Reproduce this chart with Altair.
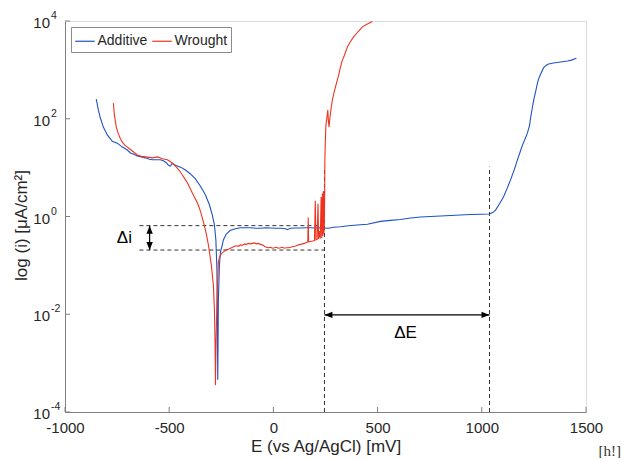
import altair as alt
import pandas as pd

# ---- data: (E in mV, log10 of i in uA/cm2) ----
additive_points = [
    (-850, 2.40), (-840, 2.18), (-830, 2.01), (-816, 1.83), (-797, 1.67), (-773, 1.54),
    (-749, 1.50), (-725, 1.42), (-701, 1.36), (-686, 1.30), (-667, 1.27), (-653, 1.24),
    (-634, 1.22), (-614, 1.20), (-595, 1.17), (-581, 1.16), (-562, 1.16), (-542, 1.16),
    (-528, 1.14), (-514, 1.10), (-504, 1.05), (-494, 1.03), (-485, 1.09), (-470, 1.05),
    (-446, 1.01), (-422, 0.95), (-398, 0.87), (-374, 0.77), (-350, 0.62), (-326, 0.44),
    (-307, 0.24), (-293, 0.03), (-283, -0.17), (-276, -0.48), (-271, -1.09), (-269, -2.12),
    (-267, -3.34), (-264, -1.71), (-259, -0.99), (-254, -0.73), (-245, -0.58), (-240, -0.48),
    (-226, -0.36), (-206, -0.28), (-182, -0.25), (-158, -0.23), (-134, -0.23), (-110, -0.23),
    (-86, -0.24), (-62, -0.24), (-38, -0.23), (-14, -0.235), (10, -0.24), (34, -0.24),
    (58, -0.25), (67, -0.27), (82, -0.24), (106, -0.235), (130, -0.235), (154, -0.23),
    (178, -0.23), (202, -0.235), (226, -0.23), (245, -0.235), (264, -0.24), (288, -0.22),
    (322, -0.21), (360, -0.19), (418, -0.17), (451, -0.16), (514, -0.10), (562, -0.08),
    (610, -0.06), (658, -0.03), (706, -0.01), (754, 0.0), (802, 0.01), (850, 0.02),
    (898, 0.03), (946, 0.04), (994, 0.045), (1037, 0.05), (1052, 0.08), (1066, 0.13),
    (1085, 0.26), (1104, 0.40), (1121, 0.57), (1138, 0.75), (1155, 0.95), (1171, 1.16),
    (1183, 1.31), (1195, 1.46), (1207, 1.58), (1219, 1.71), (1229, 1.86), (1234, 2.01),
    (1243, 2.24), (1250, 2.40), (1258, 2.55), (1267, 2.73), (1274, 2.83), (1282, 2.91),
    (1296, 3.04), (1308, 3.09), (1320, 3.12), (1344, 3.14), (1378, 3.16), (1411, 3.18),
    (1430, 3.20), (1454, 3.24),
]

wrought_points = [
    (-768, 2.32), (-763, 2.08), (-754, 1.83), (-744, 1.69), (-735, 1.60), (-725, 1.52),
    (-713, 1.46), (-701, 1.42), (-689, 1.38), (-677, 1.34), (-665, 1.30), (-653, 1.26),
    (-634, 1.23), (-614, 1.22), (-595, 1.21), (-581, 1.20), (-569, 1.21), (-557, 1.22),
    (-545, 1.20), (-533, 1.18), (-521, 1.17), (-509, 1.16), (-497, 1.13), (-485, 1.09),
    (-473, 1.04), (-461, 0.99), (-449, 0.93), (-437, 0.85), (-425, 0.77), (-413, 0.69),
    (-401, 0.59), (-389, 0.48), (-377, 0.38), (-365, 0.28), (-355, 0.17), (-346, 0.05),
    (-336, -0.11), (-326, -0.28), (-319, -0.42), (-312, -0.58), (-305, -0.78), (-298, -0.99),
    (-293, -1.20), (-288, -1.40), (-283, -1.91), (-280, -2.6), (-278, -3.45), (-276, -2.8),
    (-274, -2.32), (-271, -1.8), (-269, -1.50), (-266, -1.15), (-264, -0.93), (-259, -0.84),
    (-254, -0.79), (-247, -0.75), (-240, -0.73), (-233, -0.70), (-226, -0.68), (-216, -0.67),
    (-206, -0.65), (-196, -0.63), (-187, -0.61), (-177, -0.60), (-168, -0.61), (-158, -0.58),
    (-149, -0.59), (-139, -0.56), (-130, -0.57), (-120, -0.55), (-110, -0.56), (-101, -0.55),
    (-91, -0.54), (-82, -0.56), (-72, -0.55), (-62, -0.57), (-53, -0.58), (-43, -0.61),
    (-34, -0.63), (-24, -0.64), (-14, -0.63), (-5, -0.65), (5, -0.64), (14, -0.63),
    (24, -0.65), (34, -0.64), (43, -0.63), (53, -0.65), (62, -0.64), (72, -0.64),
    (82, -0.63), (91, -0.62), (101, -0.61), (110, -0.60), (120, -0.58), (130, -0.57),
    (139, -0.56), (149, -0.55), (158, -0.53), (165, -0.52), (167, -0.02), (169, -0.52),
    (178, -0.51), (188, -0.50), (197, -0.49), (201, 0.32), (204, -0.48), (210, -0.47),
    (214, 0.26), (217, -0.46), (222, -0.30), (225, -0.45), (229, 0.40), (232, -0.44),
    (235, 0.47), (237, -0.40), (240, 0.52), (242, -0.35), (244, -0.25), (246, 0.40),
    (247, 1.16), (249, 1.50), (252, 1.87), (257, 2.03), (261, 2.18), (264, 1.95),
    (267, 1.83), (271, 2.01), (278, 2.25), (283, 2.38), (290, 2.52), (298, 2.65),
    (307, 2.80), (312, 2.87), (322, 3.06), (331, 3.20), (341, 3.30), (355, 3.47),
    (370, 3.58), (384, 3.67), (408, 3.79), (427, 3.88), (451, 3.94), (475, 3.99),
]

series_names = ["Additive", "Wrought"]
series_colors = ["#1f52c4", "#ee3420"]

x_ticks = [-1000, -500, 0, 500, 1000, 1500]
y_ticks = [1e4, 1e2, 1, 1e-2, 1e-4]
y_exponents = ["4", "2", "0", "-2", "-4"]

# annotation values
dash_v_E = [245, 1037]
dash_v_top = 10.5
dash_h_E = [-643, 245]
dash_h_i = [0.65, 0.206]
di_E = -594
dE_i = 0.0097
di_label = ("Δi", -715, 0.36)
dE_label = ("ΔE", 634, 0.0041)

# ---- build tables ----
rows = []
for name, pts in zip(series_names, [additive_points, wrought_points]):
    for k, (e, li) in enumerate(pts):
        rows.append({"series": name, "E": e, "i": 10 ** li, "idx": k})
df = pd.DataFrame(rows)

FONT = "Liberation Sans"
TXT = "#262626"
AX = "#808080"

xs = alt.Scale(domain=[-1000, 1500], nice=False, zero=False)
ys = alt.Scale(type="log", domain=[1e-4, 1e4], nice=False)

lines = alt.Chart(df).mark_line(strokeWidth=1.1).encode(
    x=alt.X("E:Q", scale=xs, axis=alt.Axis(
        values=x_ticks, title="E (vs Ag/AgCl) [mV]", ticks=False, tickSize=0,
        labelExpr="'' + datum.value",
        labelPadding=8, labelFontSize=15, titleFontSize=17, titleFontWeight="normal",
        titlePadding=3, domainColor=AX, labelColor=TXT, titleColor=TXT, grid=False,
        labelFlush=False, labelOverlap=False, labelFont=FONT, titleFont=FONT)),
    y=alt.Y("i:Q", scale=ys, axis=alt.Axis(
        values=y_ticks, labels=False, ticks=False, tickSize=0, grid=False,
        title="log (i) [μA/cm²]", titleFontSize=17, titleFontWeight="normal",
        titleColor=TXT, titleFont=FONT, domainColor=AX,
        titleX=-44, titleY=204, titleBaseline="middle")),
    color=alt.Color("series:N", scale=alt.Scale(domain=series_names, range=series_colors),
                    legend=alt.Legend(
                        title=None, orient="none", legendX=6, legendY=6,
                        direction="horizontal", symbolType="stroke", symbolSize=380,
                        symbolStrokeWidth=1.2, labelFontSize=14, labelFont=FONT,
                        labelColor=TXT, labelOffset=2, columnPadding=2, padding=3.5,
                        strokeColor="#8c8c8c", fillColor="white")),
    order="idx:Q",
)

vdash = alt.Chart(pd.DataFrame({"E": dash_v_E, "lo": [1e-4] * 2, "hi": [dash_v_top] * 2})
                  ).mark_rule(strokeDash=[4, 3], color="#333333", strokeWidth=1).encode(
    x="E:Q", y="lo:Q", y2="hi:Q")

hdash = alt.Chart(pd.DataFrame({"E1": [dash_h_E[0]] * 2, "E2": [dash_h_E[1]] * 2, "i": dash_h_i})
                  ).mark_rule(strokeDash=[4, 3], color="#333333", strokeWidth=1).encode(
    x="E1:Q", x2="E2:Q", y="i:Q")

arrow_di = alt.Chart(pd.DataFrame({"E": [di_E], "a": [dash_h_i[0]], "b": [dash_h_i[1]]})
                     ).mark_rule(color="black", strokeWidth=1.2).encode(x="E:Q", y="a:Q", y2="b:Q")
arrow_dE = alt.Chart(pd.DataFrame({"a": [dash_v_E[0]], "b": [dash_v_E[1]], "i": [dE_i]})
                     ).mark_rule(color="black", strokeWidth=1.2).encode(x="a:Q", x2="b:Q", y="i:Q")

heads = pd.DataFrame({
    "E": [di_E, di_E, dash_v_E[0], dash_v_E[1]],
    "i": [dash_h_i[0], dash_h_i[1], dE_i, dE_i],
    "s": ["up", "down", "left", "right"],
})
head_paths = ["M0,0 L-0.8,2 L0.8,2 Z", "M0,0 L-0.8,-2 L0.8,-2 Z",
              "M0,0 L2,-0.8 L2,0.8 Z", "M0,0 L-2,-0.8 L-2,0.8 Z"]
arrowheads = alt.Chart(heads).mark_point(filled=True, opacity=1, color="black", size=64,
                                         strokeWidth=0).encode(
    x="E:Q", y="i:Q",
    shape=alt.Shape("s:N", scale=alt.Scale(domain=["up", "down", "left", "right"], range=head_paths),
                    legend=None))

labels = alt.Chart(pd.DataFrame({"t": [di_label[0], dE_label[0]], "E": [di_label[1], dE_label[1]],
                                 "i": [di_label[2], dE_label[2]]})
                   ).mark_text(fontSize=17, font=FONT, color="black").encode(x="E:Q", y="i:Q", text="t:N")

xtick = alt.Chart(pd.DataFrame({"E": x_ticks})).mark_rule(color=AX, strokeWidth=1).encode(
    x="E:Q", y=alt.value(391), y2=alt.value(386))
ytick = alt.Chart(pd.DataFrame({"i": y_ticks})).mark_rule(color=AX, strokeWidth=1).encode(
    y="i:Q", x=alt.value(0), x2=alt.value(5))

ylab_df = pd.DataFrame({"i": y_ticks, "e": y_exponents})
ylab_base = alt.Chart(ylab_df).mark_text(align="right", baseline="middle", fontSize=15,
                                         font=FONT, color=TXT, dy=2).encode(
    y="i:Q", x=alt.value(-15), text=alt.value("10"))
ylab_exp = alt.Chart(ylab_df).mark_text(align="left", baseline="middle", fontSize=10.5,
                                        font=FONT, color=TXT, dy=-5).encode(
    y="i:Q", x=alt.value(-14), text="e:N")

hmark = alt.Chart(pd.DataFrame({"t": ["[h!]"]})).mark_text(
    fontSize=15, font="Liberation Serif", color="#333333", align="right", baseline="middle").encode(
    x=alt.value(556), y=alt.value(430), text="t:N")

chart = alt.layer(
    vdash, hdash, lines, arrow_di, arrow_dE, arrowheads, labels,
    xtick, ytick, ylab_base, ylab_exp, hmark,
).properties(
    width=521, height=391,
    autosize=alt.AutoSizeParams(type="none"),
    padding={"left": 57, "top": 13, "right": 37, "bottom": 46},
).configure_view(stroke="transparent").configure(font=FONT)

chart.save("out.html", embed_options={"renderer": "svg", "actions": False})
